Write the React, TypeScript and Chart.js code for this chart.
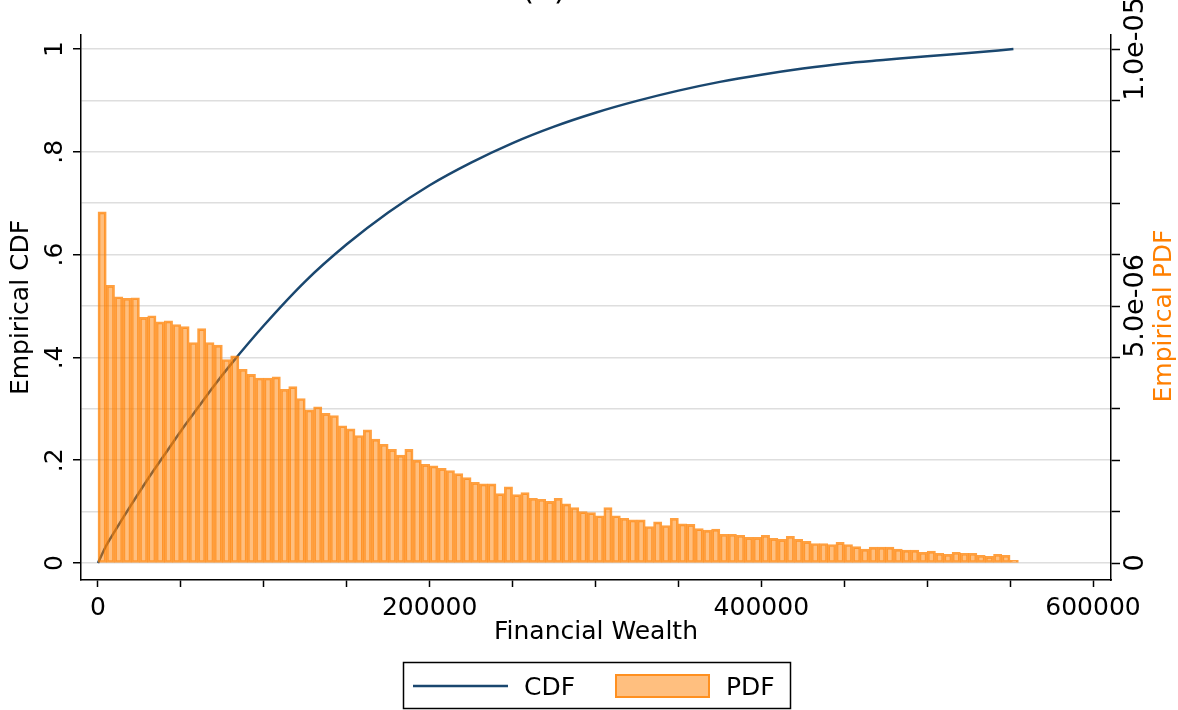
import React, { useEffect, useRef } from 'react';
import { Chart, registerables } from 'chart.js';

Chart.register(...registerables);

// ---------- data ----------
const BIN_START = 0;
const BIN_WIDTH = 5000;
// histogram heights, in units of 1e-6 (density)
const pdfDensityMicro = [
  6.83, 5.40, 5.18, 5.15, 5.16, 4.78, 4.81, 4.69, 4.71, 4.64,
  4.60, 4.29, 4.56, 4.29, 4.24, 3.96, 4.03, 3.77, 3.67, 3.60,
  3.60, 3.62, 3.38, 3.43, 3.20, 2.98, 3.04, 2.91, 2.87, 2.67,
  2.61, 2.48, 2.59, 2.41, 2.31, 2.21, 2.10, 2.21, 2.00, 1.92,
  1.89, 1.84, 1.80, 1.74, 1.66, 1.57, 1.54, 1.54, 1.35, 1.48,
  1.33, 1.37, 1.26, 1.24, 1.20, 1.26, 1.15, 1.08, 1.00, 0.98,
  0.92, 1.08, 0.92, 0.87, 0.84, 0.84, 0.71, 0.80, 0.73, 0.87,
  0.76, 0.75, 0.67, 0.64, 0.66, 0.56, 0.56, 0.54, 0.50, 0.50,
  0.54, 0.48, 0.46, 0.52, 0.46, 0.42, 0.38, 0.38, 0.36, 0.40,
  0.36, 0.32, 0.27, 0.31, 0.31, 0.31, 0.27, 0.25, 0.25, 0.21,
  0.23, 0.19, 0.17, 0.21, 0.19, 0.19, 0.15, 0.13, 0.17, 0.15, 0.05,
];

const cdfWealth = [
  0, 5000, 10000, 20000, 30000, 40000, 50000, 60000, 70000, 80000,
  100000, 125000, 150000, 175000, 200000, 225000, 250000, 275000, 300000,
  325000, 350000, 375000, 400000, 425000, 450000, 475000, 500000, 525000, 552000,
];
const cdfValues = [
  0, 0.034, 0.061, 0.113, 0.163, 0.210, 0.257, 0.301, 0.345, 0.386,
  0.462, 0.548, 0.620, 0.682, 0.735, 0.779, 0.817, 0.849, 0.876,
  0.899, 0.919, 0.936, 0.950, 0.962, 0.972, 0.979, 0.986, 0.992, 1.0,
];

const xTickValues = [0, 50000, 100000, 150000, 200000, 250000, 300000, 350000, 400000, 450000, 500000, 550000, 600000];
const xLabelValues = [0, 200000, 400000, 600000];
const leftGridValues = [0, 0.1, 0.2, 0.3, 0.4, 0.5, 0.6, 0.7, 0.8, 0.9, 1];
const leftLabelValues = [0, 0.2, 0.4, 0.6, 0.8, 1];
const leftLabels = ['0', '.2', '.4', '.6', '.8', '1'];
const rightTickValues = [0, 1e-6, 2e-6, 3e-6, 4e-6, 5e-6, 6e-6, 7e-6, 8e-6, 9e-6, 1e-5];
const rightLabelValues = [0, 5e-6, 1e-5];
const rightLabels = ['0', '5.0e-06', '1.0e-05'];

const X_MIN = -10241;
const X_MAX = 610843;
const Y_MIN = -0.03307;
const Y_MAX = 1.02724;

// ---------- styles ----------
const NAVY = 'rgb(26,71,111)';
const ORANGE = 'rgb(255,127,0)';
const BAR_FILL = 'rgba(255,128,0,0.5)';
const BAR_BORDER = 'rgba(255,128,0,0.75)';
const FONT = 'DejaVu Sans';
const FS = 25;

const pdfDensity = pdfDensityMicro.map((v) => v * 1e-6);
const pdfPoints = pdfDensity.map((d, i) => ({ x: BIN_START + BIN_WIDTH * (i + 0.5), y: d }));
const cdfPoints = cdfWealth.map((w, i) => ({ x: w, y: cdfValues[i] }));

const textPlugin = {
  id: 'stataText',
  afterDraw(chart: any) {
    const ctx = chart.ctx as CanvasRenderingContext2D;
    const yL = chart.scales.y;
    const yR = chart.scales.y2;
    ctx.save();
    ctx.fillStyle = '#000';
    ctx.textAlign = 'center';
    ctx.textBaseline = 'alphabetic';
    const rot = (text: string, x: number, y: number, color: string, size: number) => {
      ctx.save();
      ctx.font = `${size}px "${FONT}"`;
      ctx.translate(x, y);
      ctx.rotate(-Math.PI / 2);
      ctx.fillStyle = color;
      ctx.fillText(text, 0, 0);
      ctx.restore();
    };
    leftLabelValues.forEach((v, i) => rot(leftLabels[i], 62, yL.getPixelForValue(v), '#000', FS));
    rightLabelValues.forEach((v, i) => rot(rightLabels[i], 1143, yR.getPixelForValue(v), '#000', 27));
    rot('Empirical CDF', 28, (chart.chartArea.top + chart.chartArea.bottom) / 2, '#000', FS);
    rot('Empirical PDF', 1171, 316, ORANGE, FS);

    // title (mostly outside the canvas, as in the reference)
    ctx.font = `32px "${FONT}"`;
    ctx.fillStyle = '#000';
    ctx.fillText('(a)', 544, -1);

    // legend
    ctx.font = `${FS}px "${FONT}"`;
    ctx.lineWidth = 1.5;
    ctx.strokeStyle = '#000';
    ctx.strokeRect(403.5, 662.5, 387, 46);
    ctx.beginPath();
    ctx.strokeStyle = NAVY;
    ctx.lineWidth = 2.5;
    ctx.moveTo(413, 686);
    ctx.lineTo(508, 686);
    ctx.stroke();
    ctx.textAlign = 'left';
    ctx.fillStyle = '#000';
    ctx.fillText('CDF', 524, 695);
    ctx.fillStyle = BAR_FILL;
    ctx.fillRect(615, 674, 95, 24);
    ctx.strokeStyle = BAR_BORDER;
    ctx.lineWidth = 2;
    ctx.strokeRect(616, 675, 93, 22);
    ctx.fillStyle = '#000';
    ctx.fillText('PDF', 726, 695);
    ctx.restore();
  },
};

export default function App() {
  const ref = useRef<HTMLCanvasElement>(null);
  useEffect(() => {
    Chart.defaults.font.family = FONT;
    const chart = new Chart(ref.current!, {
      type: 'bar',
      data: {
        datasets: [
          {
            type: 'bar',
            label: 'PDF',
            data: pdfPoints as any,
            yAxisID: 'y2',
            xAxisID: 'x',
            backgroundColor: BAR_FILL,
            borderColor: BAR_BORDER,
            borderWidth: 2,
            borderSkipped: false,
            barPercentage: 1,
            categoryPercentage: 1,
            order: 0,
          } as any,
          {
            type: 'line',
            label: 'CDF',
            data: cdfPoints as any,
            yAxisID: 'y',
            xAxisID: 'x',
            borderColor: NAVY,
            borderWidth: 2.5,
            pointRadius: 0,
            fill: false,
            cubicInterpolationMode: 'monotone',
            order: 1,
          } as any,
        ],
      },
      options: {
        responsive: false,
        animation: false,
        devicePixelRatio: 1,
        layout: { padding: { top: 35, left: 0, right: 0, bottom: 0 } },
        plugins: { legend: { display: false }, tooltip: { enabled: false }, title: { display: false } },
        scales: {
          x: {
            type: 'linear',
            position: 'bottom',
            min: X_MIN,
            max: X_MAX,
            bounds: 'data',
            offset: false,
            afterBuildTicks: (s: any) => { s.ticks = xTickValues.map((v) => ({ value: v })); },
            afterFit: (s: any) => { s.height = 130; },
            grid: { offset: false, drawOnChartArea: false, drawTicks: true, tickLength: 7, tickColor: '#000', tickWidth: 1.5 },
            border: { display: true, color: '#000', width: 1.5 },
            ticks: {
              autoSkip: false,
              maxRotation: 0,
              minRotation: 0,
              padding: 6,
              color: '#000',
              font: { size: FS, family: FONT },
              callback: (v: any) => (xLabelValues.includes(Number(v)) ? String(v) : ''),
            },
            title: {
              display: true,
              text: 'Financial Wealth',
              color: '#000',
              font: { size: FS, family: FONT },
              padding: { top: 0, bottom: 63 },
            },
          },
          y: {
            type: 'linear',
            position: 'left',
            min: Y_MIN,
            max: Y_MAX,
            bounds: 'data',
            afterBuildTicks: (s: any) => { s.ticks = leftGridValues.map((v) => ({ value: v })); },
            afterFit: (s: any) => { s.width = 81; },
            grid: {
              drawOnChartArea: true,
              drawTicks: true,
              tickLength: 8,
              color: '#dedede',
              lineWidth: 1.5,
              tickWidth: 1.5,
              tickColor: (c: any) =>
                c.tick && leftLabelValues.some((v) => Math.abs(v - c.tick.value) < 1e-9) ? '#000' : 'rgba(0,0,0,0)',
            },
            border: { display: true, color: '#000', width: 1.5 },
            ticks: { display: false },
          },
          y2: {
            type: 'linear',
            position: 'right',
            min: Y_MIN * 1e-5,
            max: Y_MAX * 1e-5,
            bounds: 'data',
            afterBuildTicks: (s: any) => { s.ticks = rightTickValues.map((v) => ({ value: v })); },
            afterFit: (s: any) => { s.width = 67; },
            grid: { drawOnChartArea: false, drawTicks: true, tickLength: 9, tickColor: '#000', tickWidth: 1.5 },
            border: { display: true, color: '#000', width: 1.5 },
            ticks: { display: false },
          },
        },
      } as any,
      plugins: [textPlugin],
    });
    return () => chart.destroy();
  }, []);
  return (
    <div style={{ position: 'absolute', left: 0, top: 0, width: 1178, height: 710 }}>
      <canvas ref={ref} width={1178} height={710} style={{ display: 'block', width: 1178, height: 710 }} />
    </div>
  );
}
